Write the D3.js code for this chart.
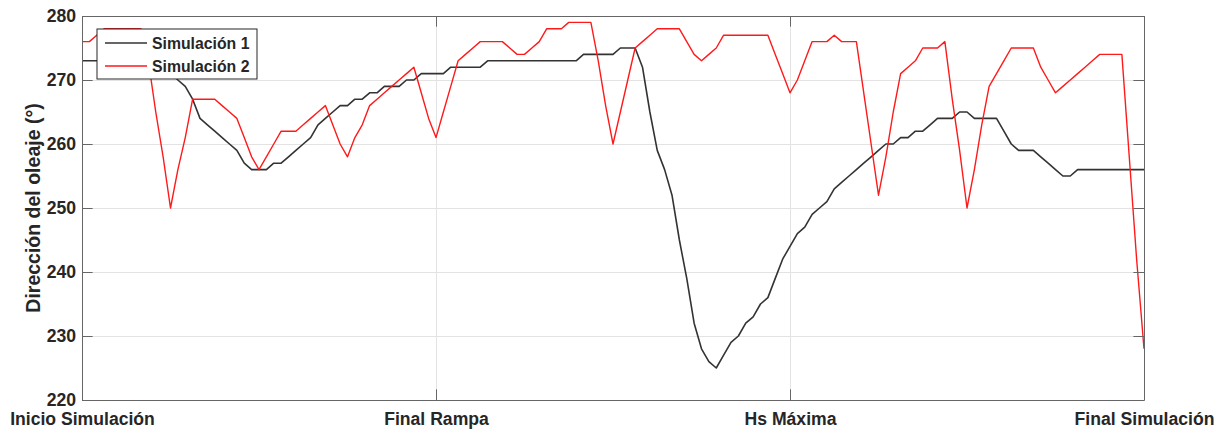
<!DOCTYPE html>
<html>
<head>
<meta charset="utf-8">
<script src="https://cdn.jsdelivr.net/npm/d3@7"></script>
<style>
    body { margin: 0; background: #fff; }
    svg { display: block; font-family: "Liberation Sans", Arial, sans-serif; }
    .axis text { font-size: 17.6px; font-weight: bold; fill: #262626; }
    .axis path, .axis line { stroke: #666; }
    .grid line { stroke: #e3e3e3; }
    .grid path { display: none; }
</style>
</head>
<body>
<div id="chart"></div>
<script>
// sample index along the run, 0..144
var tickPos = [0, 48, 96, 144];
var tickLabels = ["Inicio Simulación", "Final Rampa", "Hs Máxima", "Final Simulación"];
var yTicks = [220, 230, 240, 250, 260, 270, 280];
var seriesNames = ["Simulación 1", "Simulación 2"];

var sim1 = [
    273,273,273,273,273,273,273,273,272,272,
    272,271,271,270,269,267,264,263,262,261,
    260,259,257,256,256,256,257,257,258,259,
    260,261,263,264,265,266,266,267,267,268,
    268,269,269,269,270,270,271,271,271,271,
    272,272,272,272,272,273,273,273,273,273,
    273,273,273,273,273,273,273,273,274,274,
    274,274,274,275,275,275,272,265,259,256,
    252,245,239,232,228,226,225,227,229,230,
    232,233,235,236,239,242,244,246,247,249,
    250,251,253,254,255,256,257,258,259,260,
    260,261,261,262,262,263,264,264,264,265,
    265,264,264,264,264,262,260,259,259,259,
    258,257,256,255,255,256,256,256,256,256,
    256,256,256,256,256
];
var sim2 = [
    276,276,277,278,278,278,278,278,278,273,
    265,258,250,256,261,267,267,267,267,266,
    265,264,261,258,256,258,260,262,262,262,
    263,264,265,266,263,260,258,261,263,266,
    267,268,269,270,271,272,268,264,261,265,
    269,273,274,275,276,276,276,276,275,274,
    274,275,276,278,278,278,279,279,279,279,
    273,266,260,265,270,275,276,277,278,278,
    278,278,276,274,273,274,275,277,277,277,
    277,277,277,277,274,271,268,270,273,276,
    276,276,277,276,276,276,268,260,252,258,
    265,271,272,273,275,275,275,276,267,259,
    250,256,263,269,271,273,275,275,275,275,
    272,270,268,269,270,271,272,273,274,274,
    274,274,258,242,228
];
var colors = ["#333333", "#ff1a1a"];

var margin = {top: 16, right: 80, bottom: 30, left: 82},
    width = 1224 - margin.left - margin.right,
    height = 430 - margin.top - margin.bottom;

var x = d3.scaleLinear().domain([0, sim1.length - 1]).range([0, width]);
var y = d3.scaleLinear().domain([220, 280]).range([height, 0]);
var tickLen = 10.6;

var svg = d3.select("#chart").append("svg")
    .attr("width", width + margin.left + margin.right)
    .attr("height", height + margin.top + margin.bottom)
    .append("g")
    .attr("transform", "translate(" + margin.left + "," + margin.top + ")");

// grid
svg.append("g")
    .attr("class", "grid")
    .call(d3.axisLeft(y).tickValues(yTicks).tickSize(-width).tickFormat(""));
svg.append("g")
    .attr("class", "grid")
    .attr("transform", "translate(0," + height + ")")
    .call(d3.axisBottom(x).tickValues(tickPos).tickSize(-height).tickFormat(""));

// data lines
var line = d3.line()
    .x(function(d, i) { return x(i); })
    .y(function(d) { return y(d); });

[sim1, sim2].forEach(function(s, k) {
    svg.append("path")
        .datum(s)
        .attr("fill", "none")
        .attr("stroke", colors[k])
        .attr("stroke-width", k == 0 ? 1.6 : 1.4)
        .attr("stroke-linejoin", "round")
        .attr("d", line);
});

// axes, MATLAB style with ticks pointing in
var xAxis = svg.append("g")
    .attr("class", "axis")
    .attr("transform", "translate(0," + height + ")")
    .call(d3.axisBottom(x).tickValues(tickPos).tickSizeInner(-tickLen).tickSizeOuter(0)
        .tickPadding(13).tickFormat(function(d, i) { return tickLabels[i]; }));
xAxis.selectAll("text").attr("dy", "0.71em");
svg.append("g")
    .attr("class", "axis")
    .call(d3.axisTop(x).tickValues(tickPos).tickSizeInner(-tickLen).tickSizeOuter(0).tickFormat(""));
svg.append("g")
    .attr("class", "axis")
    .call(d3.axisLeft(y).tickValues(yTicks).tickSizeInner(-tickLen).tickSizeOuter(0).tickPadding(6));
svg.append("g")
    .attr("class", "axis")
    .attr("transform", "translate(" + width + ",0)")
    .call(d3.axisRight(y).tickValues(yTicks).tickSizeInner(-tickLen).tickSizeOuter(0).tickFormat(""));

svg.append("text")
    .attr("transform", "translate(" + (33 - margin.left) + "," + (height / 2) + ") rotate(-90)")
    .attr("text-anchor", "middle")
    .attr("dy", "0.35em")
    .style("font-size", "19.5px")
    .style("font-weight", "bold")
    .style("fill", "#262626")
    .text("Dirección del oleaje (°)");

// legend
var legend = svg.append("g")
    .attr("transform", "translate(" + (97 - margin.left) + "," + (29 - margin.top) + ")");
legend.append("rect")
    .attr("width", 160)
    .attr("height", 50)
    .attr("fill", "#fff")
    .attr("stroke", "#262626")
    .attr("stroke-width", 1);
seriesNames.forEach(function(name, k) {
    var ly = 14 + k * 23;
    legend.append("line")
        .attr("x1", 8).attr("x2", 50)
        .attr("y1", ly).attr("y2", ly)
        .attr("stroke", colors[k])
        .attr("stroke-width", 1.5);
    legend.append("text")
        .attr("x", 55)
        .attr("y", ly)
        .attr("dy", "0.35em")
        .style("font-size", "15.8px")
        .style("font-weight", "bold")
        .style("fill", "#262626")
        .text(name);
});
</script>
</body>
</html>
